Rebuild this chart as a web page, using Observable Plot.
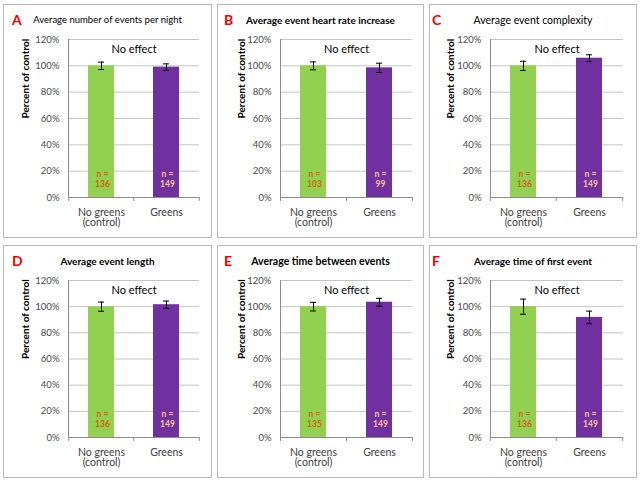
<!DOCTYPE html>
<html>
<head>
<meta charset="utf-8">
<script src="https://cdn.jsdelivr.net/npm/d3@7"></script>
<script src="https://cdn.jsdelivr.net/npm/@observablehq/plot@0.6"></script>
<style>
  html, body { margin: 0; padding: 0; background: #fff; }
  #root { position: relative; width: 640px; height: 480px; font-family: Lato, "Open Sans", sans-serif; }
  .panel { position: absolute; box-sizing: border-box; border: 1px solid #b8b8b8; background: #fff; }
  .panel svg { position: absolute; left: 0; top: 0; }
  .title { position: absolute; left: 0; width: 100%; text-align: center; color: #000; font-size: 10px; line-height: 12px; z-index: 2; }
  .letter { position: absolute; color: #ee0000; font-weight: bold; font-size: 14px; line-height: 14px; z-index: 2; }
</style>
</head>
<body>
<div id="root"></div>
<script>
// ---- data ----
const panelLetters = ["A", "B", "C", "D", "E", "F"];
const panelTitles = [
  "Average number of events per night",
  "Average event heart rate increase",
  "Average event complexity",
  "Average event length",
  "Average time between events",
  "Average time of first event"
];
const groups = ["No greens (control)", "Greens"];
const groupTickLabels = ["No greens\n(control)", "Greens"];
const controlValues = [100, 100, 100, 100, 100, 100];
const greensValues = [99, 98.5, 105.8, 101.5, 103.4, 91.8];
const controlErrors = [2.8, 3.0, 3.5, 3.5, 3.3, 5.8];
const greensErrors = [2.5, 3.5, 2.6, 2.8, 3.0, 4.8];
const controlN = [136, 103, 136, 136, 135, 136];
const greensN = [149, 99, 149, 149, 149, 149];
const yTicks = [0, 20, 40, 60, 80, 100, 120];
const noteText = "No effect";
const yLabel = "Percent of control";

// ---- styles / layout ----
const barColors = ["#92D050", "#7030A0"];
const nColors = ["#D9600F", "#F8C48A"];
const boldTitle = [false, true, false, true, true, true];
const titleSize = [9.5, 10, 10.5, 10, 10.5, 10];
const panelX = [3, 217, 429], panelW = [208, 206, 207];
const plotL = [68, 280, 490], plotR = [199, 412, 623];
const letterX = [12, 224, 432];
const yLabelOffset = [43, 39, 40];
const panelY = [4, 245], panelH = [233, 232];
const plotT = [39, 280], plotB = [197, 437];

const root = document.getElementById("root");

panelLetters.forEach((letter, i) => {
  const col = i % 3, row = Math.floor(i / 3);
  const div = document.createElement("div");
  div.className = "panel";
  div.style.left = panelX[col] + "px";
  div.style.top = panelY[row] + "px";
  div.style.width = (panelW[col] + 1) + "px";
  div.style.height = (panelH[row] + 1) + "px";
  root.appendChild(div);

  const innerW = panelW[col] - 1, innerH = panelH[row] - 1;
  const cx = panelX[col] + 1, cy = panelY[row] + 1;
  const step = (plotR[col] - plotL[col]) / groups.length;

  const data = groups.map((g, j) => ({
    group: g,
    value: j === 0 ? controlValues[i] : greensValues[i],
    err: j === 0 ? controlErrors[i] : greensErrors[i],
    n: j === 0 ? controlN[i] : greensN[i],
    color: barColors[j],
    ncolor: nColors[j]
  }));

  // category boundary ticks: left edge of each band plus right edge of the last
  const boundaryLeft = groups;
  const boundaryRight = [groups[groups.length - 1]];

  const chart = Plot.plot({
    width: innerW,
    height: innerH,
    marginLeft: plotL[col] - cx,
    marginRight: cx + innerW - plotR[col],
    marginTop: plotT[row] - cy,
    marginBottom: cy + innerH - plotB[row],
    style: { fontFamily: "Lato, 'Open Sans', sans-serif", background: "transparent", overflow: "visible" },
    color: { type: "identity" },
    x: { domain: groups, paddingInner: 0.6, paddingOuter: 0.3, axis: null },
    y: { domain: [0, 120], axis: null },
    marks: [
      Plot.ruleY(yTicks.filter(t => t > 0), { stroke: "#c4c4c4", strokeWidth: 1 }),
      Plot.barY(data, { x: "group", y: "value", fill: "color" }),
      Plot.ruleY([0], { stroke: "#8c8c8c" }),
      Plot.frame({ anchor: "left", stroke: "#8c8c8c" }),
      Plot.ruleX(boundaryLeft, { x: d => d, y1: 0, y2: -3, dx: -step / 2, stroke: "#8c8c8c" }),
      Plot.ruleX(boundaryRight, { x: d => d, y1: 0, y2: -3, dx: step / 2, stroke: "#8c8c8c" }),
      Plot.axisY({ ticks: yTicks, tickSize: 0, tickPadding: 9, tickFormat: d => d + "%", fontSize: 9.5, fill: "#4a4a4a", label: null }),
      Plot.axisX({ tickSize: 0, tickPadding: 11, fontSize: 10.5, fill: "#404040", label: null,
        tickFormat: d => groupTickLabels[groups.indexOf(d)] }),
      Plot.ruleX(data, { x: "group", y1: d => d.value - d.err, y2: d => d.value + d.err, stroke: "#000", strokeWidth: 1 }),
      Plot.tickY(data, { x: "group", y: d => d.value + d.err, stroke: "#000", insetLeft: 10, insetRight: 10 }),
      Plot.tickY(data, { x: "group", y: d => d.value - d.err, stroke: "#000", insetLeft: 10, insetRight: 10 }),
      Plot.text(data, { x: "group", text: () => "n =", frameAnchor: "bottom", lineAnchor: "middle", dy: -23, dx: 1, fill: "ncolor", fontSize: 8.5, fontWeight: "bold" }),
      Plot.text(data, { x: "group", text: d => String(d.n), frameAnchor: "bottom", lineAnchor: "middle", dy: -13, dx: 1, fill: "ncolor", fontSize: 8.5, fontWeight: "bold" }),
      Plot.text([noteText], { text: d => d, frameAnchor: "top", lineAnchor: "middle", dy: 10, fontSize: 11, fill: "#000" }),
      Plot.text([yLabel], { text: d => d, frameAnchor: "left", lineAnchor: "middle", dx: -yLabelOffset[col], rotate: -90, fontSize: 10, fontWeight: "bold", fill: "#000" })
    ]
  });
  div.appendChild(chart);

  const t = document.createElement("div");
  t.className = "title";
  t.textContent = panelTitles[i];
  t.style.top = "9px";
  t.style.fontSize = titleSize[i] + "px";
  t.style.fontWeight = boldTitle[i] ? "bold" : "normal";
  div.appendChild(t);

  const l = document.createElement("div");
  l.className = "letter";
  l.textContent = letter;
  l.style.left = (letterX[col] - cx) + "px";
  l.style.top = "8px";
  div.appendChild(l);
});
</script>
</body>
</html>
